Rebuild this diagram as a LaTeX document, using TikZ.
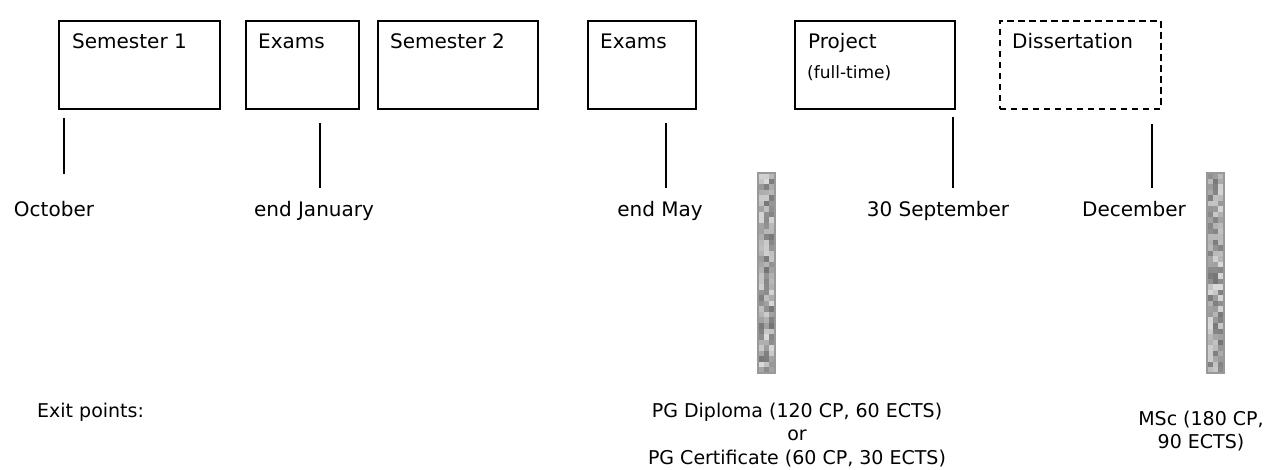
\documentclass[tikz,border=0pt]{standalone}
\usepackage{fontspec}
\setmainfont{DejaVu Sans}

\begin{document}
\begin{tikzpicture}[x=1pt,y=-1pt,
        period/.style = {shape=rectangle, draw, line width=1.8pt,
          anchor=north west, inner sep=0pt, minimum height=88pt},
        planned/.style = {period, dash pattern=on 6.5pt off 4.5pt},
        title/.style = {anchor=base west, inner sep=0pt,
          font=\fontsize{20}{24}\selectfont},
        note/.style = {anchor=base west, inner sep=0pt,
          font=\fontsize{17}{20}\selectfont},
        month/.style = {anchor=base, inner sep=0pt,
          font=\fontsize{20}{24}\selectfont},
        exit/.style = {anchor=north, inner sep=0pt, align=center,
          font=\fontsize{19}{23.5}\selectfont},
        tick/.style = {line width=1.6pt}]
  \useasboundingbox (0,0) rectangle (1271,470);

  % the periods of the year
  \node[period, minimum width=161pt] (sem1) at (58,20) {};
  \node[period, minimum width=113pt] (exam1) at (245,20) {};
  \node[period, minimum width=160pt] (sem2) at (377,20) {};
  \node[period, minimum width=108pt] (exam2) at (587,20) {};
  \node[period, minimum width=160pt] (proj) at (794,20) {};
  \node[planned, minimum width=161pt] (diss) at (999,20) {};

  \node[title] (sem1t) at ([shift={(14,29)}]sem1.north west) {Semester 1};
  \node[title] (exam1t) at ([shift={(13,29)}]exam1.north west) {Exams};
  \node[title] (sem2t) at ([shift={(13,29)}]sem2.north west) {Semester 2};
  \node[title] (exam2t) at ([shift={(13,29)}]exam2.north west) {Exams};
  \node[title] (projt) at ([shift={(14,29)}]proj.north west) {Project};
  \node[note] (projn) at ([shift={(13,59)}]proj.north west) {(full-time)};
  \node[title] (disst) at ([shift={(13,29)}]diss.north west) {Dissertation};

  % dates
  \coordinate (oct) at (64,118);  \coordinate (octb) at (64,174);
  \coordinate (jan) at (320,123); \coordinate (janb) at (320,188);
  \coordinate (may) at (666,123); \coordinate (mayb) at (666,188);
  \coordinate (sep) at (953,117); \coordinate (sepb) at (953,188);
  \coordinate (dec) at (1152,124); \coordinate (decb) at (1152,188);
  \draw[tick] (oct) -- (octb);
  \draw[tick] (jan) -- (janb);
  \draw[tick] (may) -- (mayb);
  \draw[tick] (sep) -- (sepb);
  \draw[tick] (dec) -- (decb);

  \node[month] (octl) at (54,217) {October};
  \node[month] (janl) at (314,217) {end January};
  \node[month] (mayl) at (660,217) {end May};
  \node[month] (sepl) at (938,217) {30 September};
  \node[month] (decl) at (1134,217) {December};

  % exit bars
  \pgfmathsetseed{42}
  \foreach \bx in {758,1207}{
    \foreach \r in {0,...,35}
      \foreach \c in {0,1,2}{
        \pgfmathsetmacro\g{int(random(15,55))}
        \fill[black!\g!white] (\bx+\c*17/3,173+\r*200/36) rectangle ++(17/3,200/36);
      }
    \draw[line width=1.2pt, black!40] (\bx,173) rectangle ++(17,200);
  }

  % exit points
  \node[anchor=base west, inner sep=0pt, font=\fontsize{19}{23.5}\selectfont]
    (exits) at (37,417) {Exit points:};
  \node[exit] (pg) at (797,402.5)
    {PG Diploma (120 CP, 60 ECTS)\\or\\PG Certificate (60 CP, 30 ECTS)};
  \node[exit] (msc) at (1201,410.5) {MSc (180 CP,\\90 ECTS)};
\end{tikzpicture}
\end{document}
